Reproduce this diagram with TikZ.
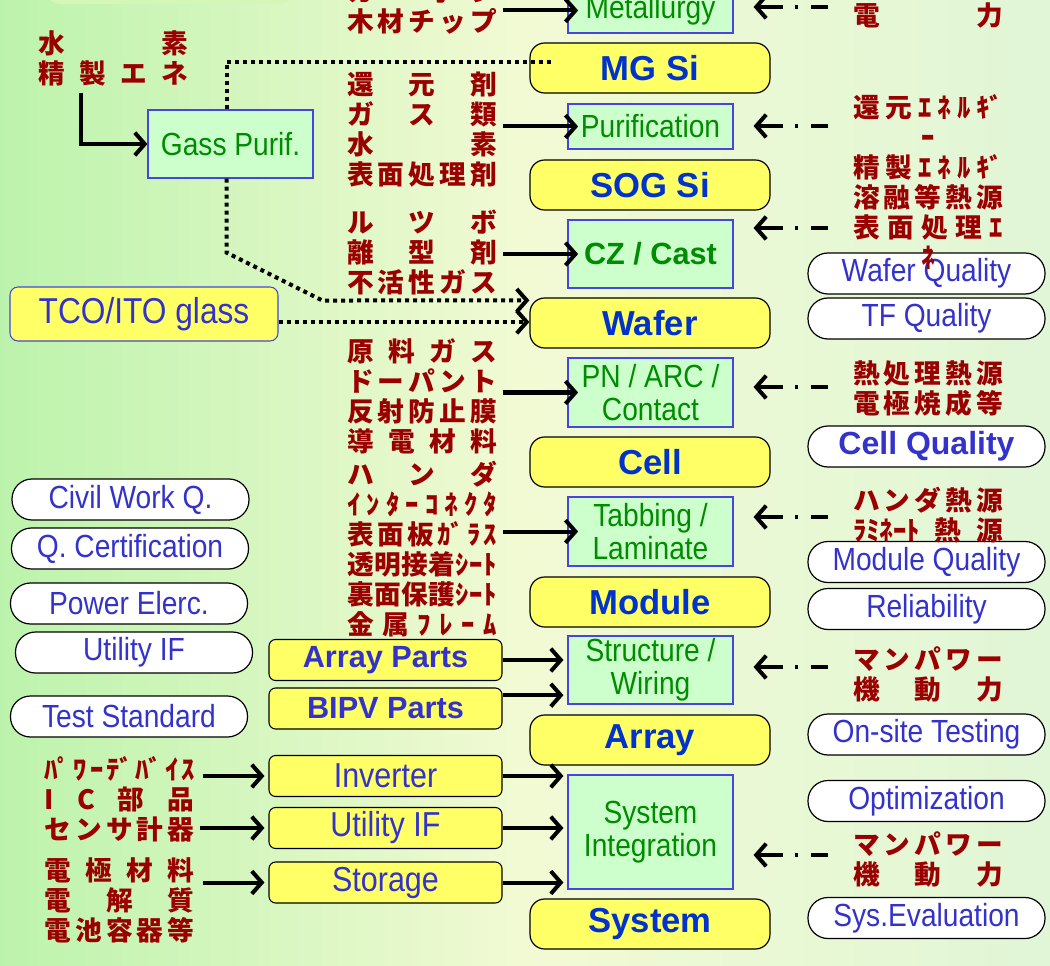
\documentclass[tikz,border=0pt]{standalone}
\usepackage{fontspec}
\setmainfont{Liberation Sans}
\newfontfamily\lblfont[FakeStretch=0.88]{Liberation Sans}
\newfontfamily\jpfont{Noto Sans CJK JP}
\usetikzlibrary{arrows.meta, positioning, calc}

\definecolor{procgreen} {RGB}{204, 255, 204}
\definecolor{procline}  {RGB}{ 70,  70, 220}
\definecolor{proctext}  {RGB}{  0, 140,   0}
\definecolor{stageyel}  {RGB}{255, 255, 102}
\definecolor{stageblue} {RGB}{  0,  51, 204}
\definecolor{qblue}     {RGB}{ 51,  51, 204}
\definecolor{jred}      {RGB}{155,   0,   0}
\definecolor{bgleft}    {RGB}{188, 243, 172}
\definecolor{bgmid}     {RGB}{242, 250, 212}
\definecolor{bgright}   {RGB}{224, 246, 214}
\definecolor{blobgreen} {RGB}{212, 247, 184}

% one spread-out line of a Japanese list
\newcommand{\jl}[1]{\makebox[112.5pt][s]{\spaceskip=0pt plus 1fil\relax #1}}

\tikzset{
  stage/.style={draw=black, line width=0.9pt, fill=stageyel, rounded corners=11pt,
    minimum width=180pt, minimum height=37.5pt, inner sep=0pt, text=stageblue,
    font=\bfseries\fontsize{26}{30}\selectfont},
  procbox/.style={draw=procline, line width=0.8pt, fill=procgreen, minimum width=123.75pt,
    inner sep=0pt, align=center, text=proctext, font=\lblfont\fontsize{24}{25}\selectfont},
  qpill/.style={draw=black, line width=0.9pt, fill=white, rounded corners=15pt,
    minimum width=177.75pt, minimum height=30.75pt, inner sep=0pt, text=qblue,
    font=\lblfont\fontsize{24}{26}\selectfont},
  partbox/.style={draw=black, line width=0.8pt, fill=stageyel, rounded corners=5pt,
    minimum width=174.75pt, minimum height=30.75pt, inner sep=0pt, text=qblue,
    font=\lblfont\fontsize{26}{28}\selectfont},
  jtext/.style={inner sep=0pt, align=center, text=jred,
    font=\jpfont\bfseries\fontsize{20}{22.5}\selectfont},
  arr/.style={-{Straight Barb[length=7.5pt,width=17pt]}, line width=3pt},
  into/.style={shorten >=-8pt},
  darr/.style={arr, dash pattern=on 12.75pt off 9.75pt on 2.25pt off 9pt on 60pt, shorten >=15pt},
  dotline/.style={line width=3pt, dash pattern=on 3pt off 3pt},
  dotarr/.style={arr, dotline},
}

\begin{document}
\begin{tikzpicture}[x=0.75pt, y=-0.75pt]
\useasboundingbox (0,0) rectangle (1050,966);
\clip (0,0) rectangle (1050,966);
\shade[left color=bgleft, right color=bgright, middle color=bgmid] (0,0) rectangle (1050,966);
\fill[blobgreen, rounded corners=12pt] (45,-40) rectangle (295,4);

% value chain
\node[stage] (mgsi)   at (650,68)  {MG Si};
\node[stage] (sogsi)  at (650,185) {SOG Si};
\node[stage] (wafer)  at (650,323) {Wafer};
\node[stage] (cell)   at (650,462) {Cell};
\node[stage] (module) at (650,602) {Module};
\node[stage] (array)  at (650,740) {Array};
\node[stage] (system) at (650,924) {System};

% processes
\node[procbox, minimum height=33.75pt] (metal)   at (650.5,10.5)  {Metallurgy};
\node[procbox, minimum height=33.75pt] (purif)   at (650.5,126.5) {Purification};
\node[procbox, minimum height=51pt, font=\bfseries\fontsize{23}{26}\selectfont] (czcast) at (650.5,254) {CZ / Cast};
\node[procbox, minimum height=51.75pt] (pnarc)   at (650.5,392.5) {PN / ARC /\\Contact};
\node[procbox, minimum height=51.75pt] (tabbing) at (650.5,531.5) {Tabbing /\\Laminate};
\node[procbox, minimum height=51pt]    (strwir)  at (650.5,670)   {Structure /\\Wiring};
\node[procbox, minimum height=85.5pt]  (sysint)  at (650.5,832)   {System\\Integration};
\node[procbox, minimum height=51pt]    (gass)    at (230.5,144)   {Gass Purif.};

% quality items
\node[qpill] (wq)  at (926.5,273.5) {Wafer Quality};
\node[qpill] (tfq) at (926.5,318.5) {TF Quality};
\node[qpill, font=\bfseries\fontsize{24}{28}\selectfont] (cq) at (926.5,446.5) {Cell Quality};
\node[qpill] (mq)  at (926.5,562)   {Module Quality};
\node[qpill] (rel) at (926.5,609)   {Reliability};
\node[qpill] (ost) at (926.5,734.5) {On-site Testing};
\node[qpill] (opt) at (926.5,801)   {Optimization};
\node[qpill] (sev) at (926.5,918)   {Sys.Evaluation};

\node[qpill] (civil)   at (130.5,499.5) {Civil Work Q.};
\node[qpill] (qcert)   at (130,548.5)   {Q. Certification};
\node[qpill] (power)   at (129,603.5)   {Power Elerc.};
\node[qpill] (utilq)   at (134,652.5)   {Utility IF};
\node[qpill] (teststd) at (129,716.5)   {Test Standard};

% parts
\node[partbox, font=\bfseries\fontsize{23}{27}\selectfont] (aparts) at (385.5,660)   {Array Parts};
\node[partbox, font=\bfseries\fontsize{23}{27}\selectfont] (bipv)   at (385.5,708.5) {BIPV Parts};
\node[partbox] (inv)  at (385.5,776)   {Inverter};
\node[partbox] (util) at (385.5,828)   {Utility IF};
\node[partbox] (stor) at (385.5,882.5) {Storage};
\node[partbox, draw=procline, rounded corners=6pt, minimum width=201pt, minimum height=40.5pt,
  font=\lblfont\fontsize{27}{30}\selectfont] (tco) at (144,314) {TCO/ITO glass};

% materials
\node[jtext] (inMetal)  at (422,7)   {\jl{カ ー ボ ン}\\\jl{木 材 チ ッ プ}};
\node[jtext] (inPurif)  at (422,130) {\jl{還 元 剤}\\\jl{ガ ス 類}\\\jl{水 素}\\\jl{表 面 処 理 剤}};
\node[jtext] (inCast)   at (422,252) {\jl{ル ツ ボ}\\\jl{離 型 剤}\\\jl{不 活 性 ガ ス}};
\node[jtext] (inCell)   at (422,396) {\jl{原 料 ガ ス}\\\jl{ド ー パ ン ト}\\\jl{反 射 防 止 膜}\\\jl{導 電 材 料}};
\node[jtext] (inModule) at (422,549) {\jl{ハ ン ダ}\\\jl{ｲ ﾝ ﾀ ｰ ｺ ﾈ ｸ ﾀ}\\\jl{表 面 板 ｶﾞ ﾗ ｽ}\\\jl{透 明 接 着 ｼ ｰ ﾄ}\\\jl{裏 面 保 護 ｼ ｰ ﾄ}\\\jl{金 属 ﾌ ﾚ ｰ ﾑ}};
\node[jtext] (h2src)    at (113,58)  {\jl{水 素}\\\jl{精 製 エ ネ}};
\node[jtext] (invsrc)   at (119.5,799) {\jl{ﾊﾟ ﾜ ｰ ﾃﾞ ﾊﾞ ｲ ｽ}\\\jl{I C 部 品}\\\jl{セ ン サ 計 器}};
\node[jtext] (batsrc)   at (119.5,900) {\jl{電 極 材 料}\\\jl{電 解 質}\\\jl{電 池 容 器 等}};

% energy and labour
\node[jtext] (enMetal)  at (928,15)    {\jl{電 力}};
\node[jtext] (enPurif)  at (928,182.5) {\jl{還 元 ｴ ﾈ ﾙ ｷﾞ}\\\makebox[112.5pt]{ｰ}\\\jl{精 製 ｴ ﾈ ﾙ ｷﾞ}\\\jl{溶 融 等 熱 源}\\\jl{表 面 処 理 ｴ}\\\makebox[112.5pt]{ﾈ}};
\node[jtext] (enCell)   at (928,388.5) {\jl{熱 処 理 熱 源}\\\jl{電 極 焼 成 等}};
\node[jtext] (enModule) at (928,515)   {\jl{ハ ン ダ 熱 源}\\\jl{ﾗﾐﾈｰﾄ 熱 源}};
\node[jtext] (enArray)  at (928,674)   {\jl{マ ン パ ワ ー}\\\jl{機 動 力}};
\node[jtext] (enSystem) at (928,859.5) {\jl{マ ン パ ワ ー}\\\jl{機 動 力}};

% inputs
\draw[arr, into, shorten <=4pt] (inMetal.east |- metal.west) -- (metal.west);
\draw[arr, into, shorten <=4pt] (inPurif.east |- purif.west) -- (purif.west);
\draw[arr, into, shorten <=4pt] (inCast.east |- czcast.west) -- (czcast.west);
\draw[arr, into, shorten <=4pt] (inCell.east |- pnarc.west) -- (pnarc.west);
\draw[arr, into, shorten <=4pt] (inModule.east |- tabbing.west) -- (tabbing.west);
\draw[arr] ([xshift=-24pt,yshift=-5pt]h2src.south) |- (gass.west);
\draw[arr, shorten <=6pt, shorten >=3pt] (invsrc.east |- inv.west) -- (inv.west);
\draw[arr, shorten <=4pt, shorten >=3pt] (invsrc.east |- util.west) -- (util.west);
\draw[arr, shorten <=6pt, shorten >=3pt] (batsrc.east |- stor.west) -- (stor.west);

% parts
\draw[arr, shorten >=3pt] (aparts.east) -- (aparts.east -| strwir.west);
\draw[arr, shorten >=3pt] ([yshift=10pt]bipv.east) -- ([yshift=10pt]bipv.east -| strwir.west);
\draw[arr, shorten >=3pt] (inv.east) -- (inv.east -| sysint.west);
\draw[arr, shorten >=3pt] (util.east) -- (util.east -| sysint.west);
\draw[arr, shorten >=3pt] (stor.east) -- (stor.east -| sysint.west);

% energy
\coordinate (dMetal)  at (828,7);
\coordinate (dPurif)  at (828,126);
\coordinate (dCast)   at (828,228);
\coordinate (dCell)   at (828,387);
\coordinate (dModule) at (828,517);
\coordinate (dArray)  at (828,667);
\coordinate (dSystem) at (828,855);
\foreach \d/\p in {dMetal/metal, dPurif/purif, dCast/czcast, dCell/pnarc,
                   dModule/tabbing, dArray/strwir, dSystem/sysint}
  \draw[darr] (\d) -- (\d -| \p.east);

% gas purification and glass
\draw[dotline] ([xshift=-3pt]gass.north) |- ([xshift=16pt,yshift=4.5pt]mgsi.west);
\draw[dotarr] ([xshift=-3pt]gass.south) -- ++(0,74) -- ++(96,48) -- ([yshift=17pt]wafer.west);
\draw[dotarr] ([yshift=-6pt]tco.east) -- ([yshift=-6pt]tco.east -| wafer.west);
\end{tikzpicture}
\end{document}
